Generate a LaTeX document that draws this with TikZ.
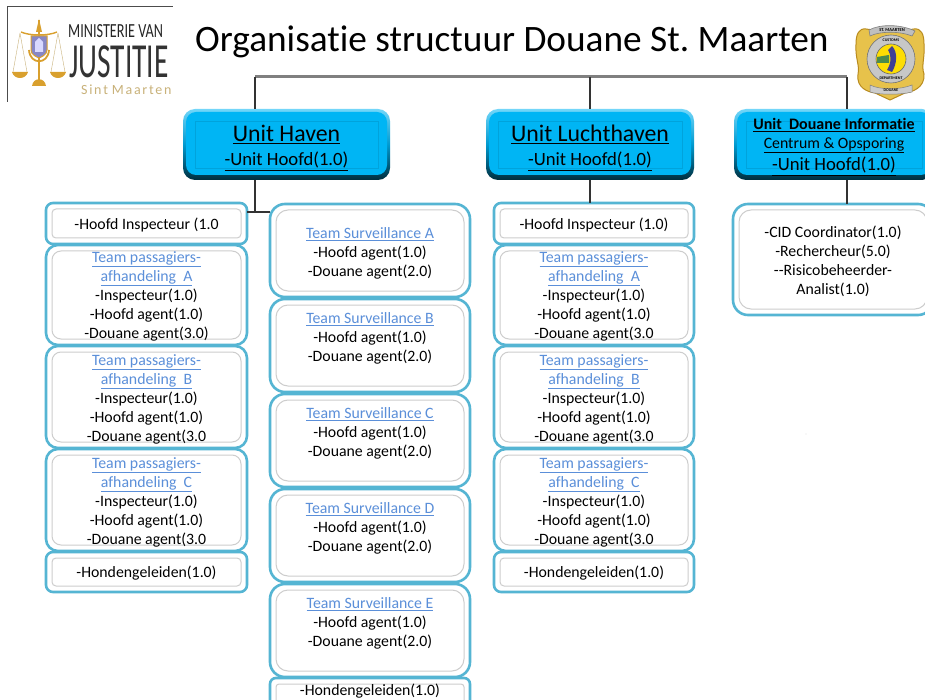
\documentclass[tikz,border=0pt]{standalone}
\usepackage{fontspec}
\setmainfont[Ligatures=NoCommon]{Carlito}
\definecolor{rim}{HTML}{55B5D3}
\definecolor{inline}{HTML}{CDCDCD}
\definecolor{linkc}{HTML}{5B8FD9}
\definecolor{skyb}{HTML}{00B5F4}
\definecolor{busc}{HTML}{808080}
\definecolor{conn}{HTML}{333333}
\definecolor{goldd}{HTML}{B98B1E}
\definecolor{goldl}{HTML}{E7C24B}
\definecolor{tanc}{HTML}{C9B27A}
\definecolor{scalec}{HTML}{D9A02E}
\newcommand{\lk}[1]{\textcolor{linkc}{\underline{#1}}}
\newcommand{\wbox}[8]{%
  \node[outerbox,rounded corners=#6pt,minimum width={(#4-#2)*1pt},minimum height={(#5-#3)*1pt}] (#1) at ({(#2+#4)/2},{(#3+#5)/2}) {};
  \node[innerbox,rounded corners={(#6-3)*1pt},minimum width={(#4-#2-12)*1pt},minimum height={(#5-#3-12)*1pt}] (#1-in) at (#1.center) {};
  \node[bodytext] (#1-text) at ({(#2+#4)/2},{#7-10.8}) {\rule{0pt}{10pt}#8};}
\newcommand{\bbox}[5]{%
  \node[blueouter,minimum width={(#4-#2)*1pt},minimum height={(#5-#3)*1pt}] (#1) at ({(#2+#4)/2},{(#3+#5)/2}) {};
  \node[bluemid,minimum width={(#4-#2-6)*1pt},minimum height={(#5-#3-8)*1pt}] (#1-mid) at ([yshift=1pt]#1.center) {};
  \node[blueinner,minimum width={(#4-#2-24)*1pt},minimum height={(#5-#3-24)*1pt}] (#1-in) at (#1.center) {};}
\tikzset{
  x=1pt,y=-1pt,
  outerbox/.style={draw=rim,line width=2.6pt,fill=white,inner sep=0pt,outer sep=0pt},
  innerbox/.style={draw=inline,line width=1pt,fill=white,inner sep=0pt},
  bodytext/.style={anchor=north,align=center,inner sep=0pt,font=\fontsize{15.8}{19}\selectfont},
  blueouter/.style={rounded corners=12pt,draw=none,top color=skyb!55!white,bottom color=black!75!skyb,middle color=skyb!85!black,inner sep=0pt,outer sep=0pt},
  bluemid/.style={rounded corners=10pt,draw=none,fill=skyb,inner sep=0pt},
  blueinner/.style={draw=skyb!90!black,line width=0.5pt,fill=skyb,inner sep=0pt},
  busline/.style={draw=busc,line width=3pt},
  connline/.style={draw=conn,line width=2.2pt},
}
\frenchspacing
\begin{document}
\begin{tikzpicture}
\useasboundingbox (0,0) rectangle (925,700);
\clip (0,0) rectangle (925,700);
\fill[white] (0,0) rectangle (925,700);

% left logo
\begin{scope}
\draw[black!70,line width=0.7pt] (7,102) -- (7,6) -- (173,6);
\clip (7,6) rectangle (173,102);
\draw[scalec,line width=1.2pt] (39,20) -- (39,80);
\fill[scalec] (39,19) -- (36,32) -- (42,32) -- cycle;
\draw[scalec,line width=1.4pt] (21,32) .. controls (30,36) and (48,36) .. (57,32);
\draw[tanc,line width=0.4pt] (20,33) -- (13,72) (20,33) -- (27,72) (58,33) -- (51,72) (58,33) -- (65,72);
\fill[scalec] (12,72) -- (28,72) .. controls (26,80) and (14,80) .. (12,72) -- cycle;
\fill[scalec] (50,72) -- (66,72) .. controls (64,80) and (52,80) .. (50,72) -- cycle;
\draw[scalec,line width=1.8pt] (29,50) .. controls (30,65) and (48,65) .. (49,50);
\fill[scalec] (32,86) .. controls (33,77) and (45,77) .. (46,86) -- cycle;
\filldraw[fill=blue!35!gray!70,draw=scalec,line width=1pt] (31,36) -- (47,36) -- (47,50) .. controls (47,55) and (41,57) .. (39,58) .. controls (37,57) and (31,55) .. (31,50) -- cycle;
\fill[white!85!blue] (35,52) -- (35,42) -- (39,38) -- (43,42) -- (43,52) -- cycle;
\node[inner sep=0pt,anchor=west,xscale=0.71,font=\fontsize{20}{20}\selectfont,text=black!85] (logotop) at (68,31) {MINISTERIE VAN};
\node[inner sep=0pt,anchor=west,xscale=0.6,font=\fontsize{49}{49}\selectfont,text=black!80] (logomid) at (69,62) {JUSTITIE};
\node[inner sep=0pt,anchor=west,font=\fontsize{14}{14}\selectfont,text=tanc] (logobot) at (81,90) {S\kern1.7pt i\kern1.7pt n\kern1.7pt t\kern4pt M\kern1.7pt a\kern1.7pt a\kern1.7pt r\kern1.7pt t\kern1.7pt e\kern1.7pt n};
\end{scope}

% title
\node[inner sep=0pt,anchor=base west,font=\fontsize{37.3}{40}\selectfont] (title) at (195,52) {Organisatie structuur Douane St. Maarten};

% badge
\filldraw[fill=goldl,draw=goldd,line width=1pt] (866,29) .. controls (880,31) and (900,31) .. (914,29) .. controls (921,28) and (924,34) .. (924,44) .. controls (925,58) and (921,66) .. (924,74) .. controls (925,88) and (912,92) .. (905,93) -- (890,100) -- (875,93) .. controls (868,92) and (856,88) .. (858,74) .. controls (860,66) and (855,58) .. (856,44) .. controls (856,34) and (859,28) .. (866,29) -- cycle;
\filldraw[fill=black!25,draw=black!50,line width=0.6pt] (869,30) .. controls (880,24) and (900,24) .. (915,31) -- (912,36) .. controls (900,31) and (880,31) .. (870,36) -- cycle;
\filldraw[fill=black!20,draw=black!50,line width=0.5pt] (870,85) .. controls (880,90) and (900,90) .. (912,85) -- (912,92) .. controls (900,95) and (880,95) .. (870,92) -- cycle;
\filldraw[fill=black!22,draw=black!55,line width=0.6pt] (891,59) circle[radius=24];
\filldraw[fill=yellow!80!orange,draw=black!60,line width=0.6pt] (891,59) circle[radius=15];
\fill[blue!45!black!75] (892,46) .. controls (898,52) and (897,64) .. (892,72) -- (887,70) .. controls (892,62) and (891,54) .. (888,50) -- cycle;
\fill[green!35!black!70] (877,57) -- (889,55) -- (889,63) -- (877,63) -- cycle;
\node[inner sep=0pt,font=\fontsize{4.5}{5}\bfseries\selectfont] (badgetop) at (892,30) {ST. MAARTEN};
\node[inner sep=0pt,font=\fontsize{4}{5}\bfseries\selectfont] (badgebot) at (891,90) {DOUANE};
\node[inner sep=0pt,font=\fontsize{4}{5}\bfseries\selectfont] (badgecus) at (891,40) {CUSTOMS};
\node[inner sep=0pt,font=\fontsize{4}{5}\bfseries\selectfont] (badgedep) at (891,78) {DEPARTMENT};

% blue unit boxes
\bbox{haven}{183}{109}{390}{180}
\bbox{lucht}{486}{109}{694}{180}
\bbox{info}{734}{109}{934}{180}
\node[inner sep=0pt,anchor=base,font=\fontsize{23.8}{24}\selectfont] (haven-t1) at (286.5,142) {\underline{Unit Haven}};
\node[inner sep=0pt,anchor=base,font=\fontsize{18.7}{18}\selectfont] (haven-t2) at (286.5,166) {\underline{-Unit Hoofd(1.0)}};
\node[inner sep=0pt,anchor=base,font=\fontsize{23.8}{24}\selectfont] (lucht-t1) at (590,142) {\underline{Unit Luchthaven}};
\node[inner sep=0pt,anchor=base,font=\fontsize{18.7}{18}\selectfont] (lucht-t2) at (590,166) {\underline{-Unit Hoofd(1.0)}};
\node[inner sep=0pt,anchor=base,font=\fontsize{16}{16}\bfseries\selectfont] (info-t1) at (834,130) {\underline{Unit\ \ Douane Informatie}};
\node[inner sep=0pt,anchor=base,font=\fontsize{15.8}{16}\selectfont] (info-t2) at (834,148.5) {\underline{Centrum \& Opsporing}};
\node[inner sep=0pt,anchor=base,font=\fontsize{18.7}{18}\selectfont] (info-t3) at (834,171) {\underline{-Unit Hoofd(1.0)}};

% left column
\wbox{lhi}{46}{203}{247}{244}{7}{229}{-Hoofd Inspecteur (1.0}
\wbox{la}{46}{245}{247}{345}{12}{262}{\lk{Team passagiers-}\\\lk{afhandeling\ \ A}\\-Inspecteur(1.0)\\-Hoofd agent(1.0)\\-Douane agent(3.0)}
\wbox{lb}{46}{346}{247}{448}{12}{365}{\lk{Team passagiers-}\\\lk{afhandeling\ \ B}\\-Inspecteur(1.0)\\-Hoofd agent(1.0)\\-Douane agent(3.0}
\wbox{lc}{46}{449}{247}{551}{12}{468}{\lk{Team passagiers-}\\\lk{afhandeling\ \ C}\\-Inspecteur(1.0)\\-Hoofd agent(1.0)\\-Douane agent(3.0}
\wbox{lh}{46}{552}{247}{592}{7}{577}{-Hondengeleiden(1.0)}

% middle column
\wbox{ma}{270}{204}{470}{297}{15}{238}{\lk{Team Surveillance A}\\-Hoofd agent(1.0)\\-Douane agent(2.0)}
\wbox{mb}{270}{299}{470}{392}{15}{323}{\lk{Team Surveillance B}\\-Hoofd agent(1.0)\\-Douane agent(2.0)}
\wbox{mc}{270}{394}{470}{487}{15}{418}{\lk{Team Surveillance C}\\-Hoofd agent(1.0)\\-Douane agent(2.0)}
\wbox{md}{270}{489}{470}{582}{15}{513}{\lk{Team Surveillance D}\\-Hoofd agent(1.0)\\-Douane agent(2.0)}
\wbox{me}{270}{584}{470}{677}{15}{608}{\lk{Team Surveillance E}\\-Hoofd agent(1.0)\\-Douane agent(2.0)}
\wbox{mh}{270}{678}{470}{712}{6}{695}{-Hondengeleiden(1.0)}

% right column
\wbox{rhi}{494}{203}{694}{244}{7}{229}{-Hoofd Inspecteur (1.0)}
\wbox{ra}{494}{245}{694}{345}{12}{262}{\lk{Team passagiers-}\\\lk{afhandeling\ \ A}\\-Inspecteur(1.0)\\-Hoofd agent(1.0)\\-Douane agent(3.0}
\wbox{rb}{494}{346}{694}{448}{12}{365}{\lk{Team passagiers-}\\\lk{afhandeling\ \ B}\\-Inspecteur(1.0)\\-Hoofd agent(1.0)\\-Douane agent(3.0}
\wbox{rc}{494}{449}{694}{551}{12}{468}{\lk{Team passagiers-}\\\lk{afhandeling\ \ C}\\-Inspecteur(1.0)\\-Hoofd agent(1.0)\\-Douane agent(3.0}
\wbox{rh}{494}{552}{694}{592}{7}{577}{-Hondengeleiden(1.0)}

% CID
\wbox{cid}{733}{204}{933}{315}{15}{237}{-CID Coordinator(1.0)\\-Rechercheur(5.0)\\-{}-Risicobeheerder-\\Analist(1.0)}

% connectors
\coordinate (busl) at (255,77);
\coordinate (busm) at (590,77);
\coordinate (busr) at (847,77);
\coordinate (junction) at (255,212);
\draw[busline] (busl) -- (busr);
\draw[connline] (busl) -- (busl |- haven.north);
\draw[connline] (busm) -- (busm |- lucht.north);
\draw[connline] (busr) -- (busr |- info.north);
\draw[connline] (busl |- haven.south) -- (junction);
\draw[connline] (lhi.east |- junction) -- (ma.west |- junction);
\draw[connline] (busm |- lucht.south) -- (busm |- rhi.north);
\draw[connline] (busr |- info.south) -- (busr |- cid.north);
\fill[black!30] (806,434) circle[radius=0.4];
\end{tikzpicture}
\end{document}
